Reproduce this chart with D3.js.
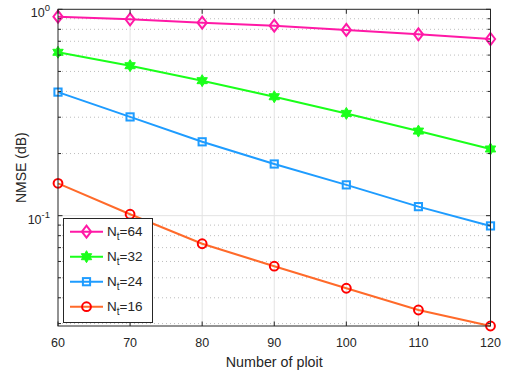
<!DOCTYPE html>
<html>
<head>
<meta charset="utf-8">
<script src="https://cdn.jsdelivr.net/npm/d3@7"></script>
<style>
  body { margin: 0; background: #fff; }
  text { font-family: "Liberation Sans", Arial, sans-serif; fill: #262626; }
</style>
</head>
<body>
<div id="chart"></div>
<script>
// pilot counts and NMSE curves
const pilots = [60, 70, 80, 90, 100, 110, 120]
const nt64 = [0.921, 0.894, 0.861, 0.833, 0.794, 0.756, 0.718]
const nt32 = [0.619, 0.533, 0.451, 0.377, 0.313, 0.257, 0.2105]
const nt24 = [0.397, 0.301, 0.228, 0.178, 0.141, 0.1106, 0.0892]
const nt16 = [0.1435, 0.1016, 0.0731, 0.0569, 0.0445, 0.0349, 0.0292]
const seriesNames = ["64", "32", "24", "16"]
const xTicks = [60, 70, 80, 90, 100, 110, 120]

const width = 510, height = 379
const plotLeft = 58, plotRight = 490.5, plotTop = 9.3, plotBottom = 326

const series = [
    { name: seriesNames[0], values: nt64, line: "#ff19a6", mark: "#ff19a6", shape: "diamond" },
    { name: seriesNames[1], values: nt32, line: "#1aff1a", mark: "#1aff1a", shape: "hexagram" },
    { name: seriesNames[2], values: nt24, line: "#1e9cff", mark: "#1e9cff", shape: "square" },
    { name: seriesNames[3], values: nt16, line: "#ff6a2a", mark: "#ff0000", shape: "circle" }
]

const svg = d3.select("#chart").append("svg")
    .attr("width", width)
    .attr("height", height)

const x = d3.scaleLinear().domain([60, 120]).range([plotLeft, plotRight])
const yMin = d3.min([nt64, nt32, nt24, nt16].flat())
const y = d3.scaleLog().domain([yMin, 1]).range([plotBottom, plotTop])

// minor y values (2..9 times each decade) inside the domain
let minorY = []
for (let e = -2; e <= 0; e++) {
    for (let m = 2; m <= 9; m++) {
        let v = m * Math.pow(10, e)
        if (v > yMin && v < 1) minorY.push(v)
    }
}
const majorY = [0.1, 1]

// grid
svg.append("g").selectAll("line")
    .data(minorY)
    .enter()
    .append("line")
    .attr("x1", plotLeft).attr("x2", plotRight)
    .attr("y1", d => y(d)).attr("y2", d => y(d))
    .attr("stroke", "#bdbdbd")
    .attr("stroke-width", 1)
    .attr("stroke-dasharray", "1,3")

svg.append("g").selectAll("line")
    .data(xTicks.slice(1, -1))
    .enter()
    .append("line")
    .attr("x1", d => x(d)).attr("x2", d => x(d))
    .attr("y1", plotTop).attr("y2", plotBottom)
    .attr("stroke", "#e3e3e3")
    .attr("stroke-width", 1)

svg.append("line")
    .attr("x1", plotLeft).attr("x2", plotRight)
    .attr("y1", y(0.1)).attr("y2", y(0.1))
    .attr("stroke", "#e3e3e3")
    .attr("stroke-width", 1)

// marker drawing
function hexagram(r) {
    let pts = []
    for (let i = 0; i < 12; i++) {
        let a = -Math.PI / 2 + i * Math.PI / 6
        let rr = i % 2 === 0 ? r : r / Math.sqrt(3)
        pts.push([rr * Math.cos(a), rr * Math.sin(a)])
    }
    return "M" + pts.map(p => p.join(",")).join("L") + "Z"
}

function drawMarker(g, shape, color) {
    if (shape === "diamond") {
        g.append("path").attr("d", "M0,-6L4.6,0L0,6L-4.6,0Z")
            .attr("fill", "none").attr("stroke", color).attr("stroke-width", 2)
    } else if (shape === "hexagram") {
        g.append("path").attr("d", hexagram(6))
            .attr("fill", color).attr("stroke", color).attr("stroke-width", 1)
    } else if (shape === "square") {
        g.append("rect").attr("x", -3.6).attr("y", -3.6).attr("width", 7.2).attr("height", 7.2)
            .attr("fill", "none").attr("stroke", color).attr("stroke-width", 2)
    } else {
        g.append("circle").attr("r", 4.4)
            .attr("fill", "none").attr("stroke", color).attr("stroke-width", 2)
    }
}

const line = d3.line()
    .x((d, i) => x(pilots[i]))
    .y(d => y(d))

series.forEach(s => {
    svg.append("path")
        .datum(s.values)
        .attr("d", line)
        .attr("fill", "none")
        .attr("stroke", s.line)
        .attr("stroke-width", 2)

    s.values.forEach((v, i) => {
        let g = svg.append("g")
            .attr("transform", "translate(" + x(pilots[i]) + "," + y(v) + ")")
        drawMarker(g, s.shape, s.mark)
    })
})

// axes box with inward ticks
const axisColor = "#262626"
const frame = svg.append("g")

frame.append("rect")
    .attr("x", plotLeft).attr("y", plotTop)
    .attr("width", plotRight - plotLeft).attr("height", plotBottom - plotTop)
    .attr("fill", "none").attr("stroke", axisColor).attr("stroke-width", 1)

xTicks.forEach(t => {
    frame.append("line").attr("x1", x(t)).attr("x2", x(t))
        .attr("y1", plotBottom).attr("y2", plotBottom - 4.5).attr("stroke", axisColor)
    frame.append("line").attr("x1", x(t)).attr("x2", x(t))
        .attr("y1", plotTop).attr("y2", plotTop + 4.5).attr("stroke", axisColor)
    frame.append("text")
        .attr("x", x(t)).attr("y", plotBottom + 21)
        .attr("text-anchor", "middle")
        .style("font-size", "12.5px")
        .text(t)
})

minorY.concat(majorY).forEach(v => {
    let len = majorY.includes(v) ? 4.5 : 3
    frame.append("line").attr("x1", plotLeft).attr("x2", plotLeft + len)
        .attr("y1", y(v)).attr("y2", y(v)).attr("stroke", axisColor)
    frame.append("line").attr("x1", plotRight).attr("x2", plotRight - len)
        .attr("y1", y(v)).attr("y2", y(v)).attr("stroke", axisColor)
})

majorY.forEach(v => {
    let t = frame.append("text")
        .attr("x", plotLeft - 8).attr("y", y(v) + 8)
        .attr("text-anchor", "end")
        .style("font-size", "12.5px")
    t.append("tspan").text("10")
    t.append("tspan").attr("dy", -6).style("font-size", "9.5px").text(Math.round(Math.log10(v)))
})

svg.append("text")
    .attr("x", (plotLeft + plotRight) / 2).attr("y", 367)
    .attr("text-anchor", "middle")
    .style("font-size", "14.3px")
    .text("Number of ploit")

svg.append("text")
    .attr("transform", "translate(26," + (plotTop + plotBottom) / 2 + ") rotate(-90)")
    .attr("text-anchor", "middle")
    .style("font-size", "14px")
    .text("NMSE (dB)")

// legend
const legend = svg.append("g")
legend.append("rect")
    .attr("x", 63.5).attr("y", 218.5)
    .attr("width", 89).attr("height", 104)
    .attr("fill", "#fff").attr("stroke", axisColor).attr("stroke-width", 1)

series.forEach((s, i) => {
    let ly = 231.7 + i * 25
    legend.append("line")
        .attr("x1", 70).attr("x2", 103)
        .attr("y1", ly).attr("y2", ly)
        .attr("stroke", s.line).attr("stroke-width", 2)
    let g = legend.append("g").attr("transform", "translate(86.5," + ly + ")")
    drawMarker(g, s.shape, s.mark)
    let t = legend.append("text")
        .attr("x", 107).attr("y", ly + 4.5)
        .style("font-size", "13.5px")
    t.append("tspan").text("N")
    t.append("tspan").attr("dy", 4).style("font-size", "10px").text("t")
    t.append("tspan").attr("dy", -4).text("=" + s.name)
})
</script>
</body>
</html>
